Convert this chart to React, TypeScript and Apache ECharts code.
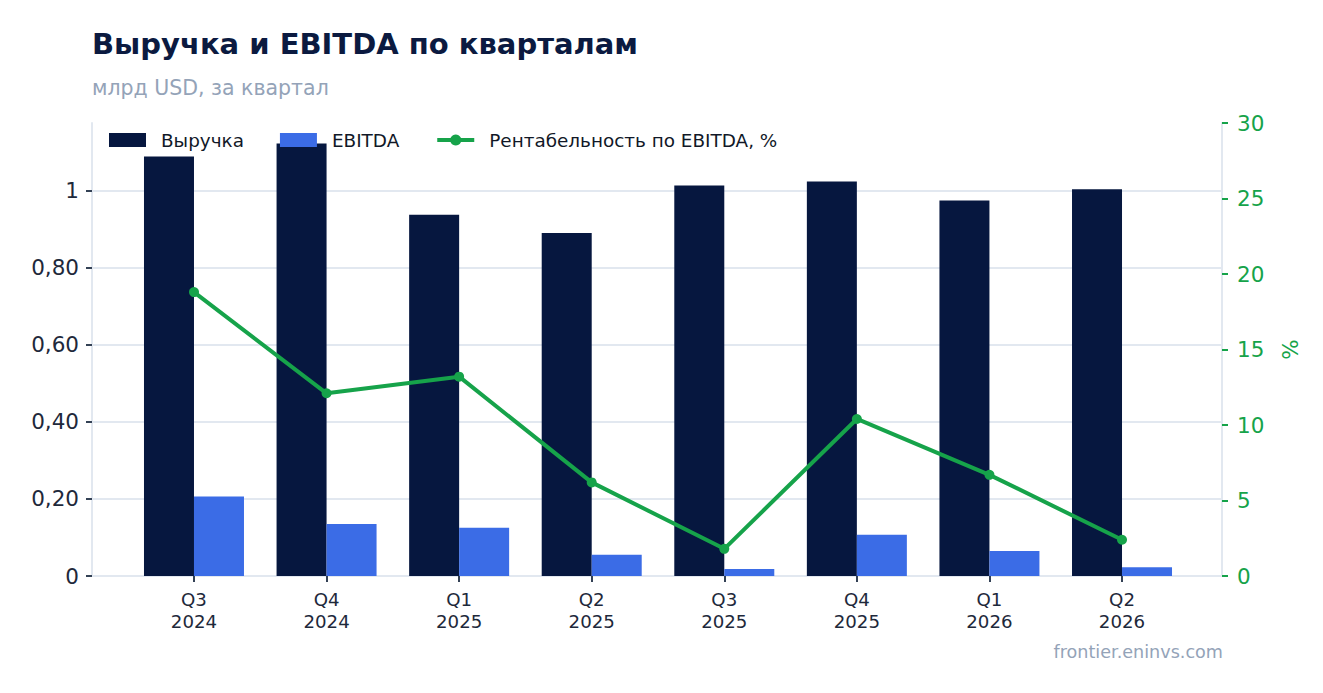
import * as echarts from 'echarts';
import { useEffect, useRef } from 'react';

const quarters = ['Q3\n2024', 'Q4\n2024', 'Q1\n2025', 'Q2\n2025', 'Q3\n2025', 'Q4\n2025', 'Q1\n2026', 'Q2\n2026'];
const revenue = [1.088, 1.122, 0.937, 0.89, 1.013, 1.023, 0.974, 1.003];
const ebitda = [0.206, 0.135, 0.125, 0.055, 0.018, 0.107, 0.065, 0.023];
const margin = [18.8, 12.1, 13.2, 6.2, 1.8, 10.4, 6.7, 2.4];

const NAVY = '#06173f';
const BLUE = '#3b6ce6';
const GREEN = '#16a34a';
const GRID_LINE = '#e2e8f0';
const MUTED = '#94a3b8';
const FONT = '"DejaVu Sans", sans-serif';

export default function App() {
  const chartRef = useRef<HTMLDivElement>(null);

  useEffect(() => {
    if (!chartRef.current) return;
    document.body.style.margin = '0';
    const chart = echarts.init(chartRef.current, undefined, { renderer: 'svg' });

    const leftFmt = (v: number) => {
      if (v === 0) return '0';
      if (Math.abs(v - 1) < 1e-9) return '1';
      return v.toFixed(2).replace('.', ',');
    };

    chart.setOption({
      animation: false,
      textStyle: { fontFamily: FONT },
      title: [
        {
          text: 'Выручка и EBITDA по кварталам',
          left: 92,
          top: 29,
          padding: 0,
          textStyle: { fontSize: 29, fontWeight: 'bold', color: '#0b1a40', fontFamily: FONT },
        },
        {
          text: 'млрд USD, за квартал',
          left: 92,
          top: 77,
          padding: 0,
          textStyle: { fontSize: 20.5, fontWeight: 'normal', color: MUTED, fontFamily: FONT },
        },
      ],
      legend: {
        left: 109,
        top: 131,
        padding: 0,
        itemWidth: 37,
        itemHeight: 14,
        itemGap: 36,
        selectedMode: false,
        textStyle: { fontSize: 18.4, color: '#111827', padding: [0, 0, 0, 10], fontFamily: FONT },
        data: [
          { name: 'Выручка', icon: 'rect' },
          { name: 'EBITDA', icon: 'rect' },
          { name: 'Рентабельность по EBITDA, %', lineStyle: { width: 4, color: GREEN } },
        ],
      },
      grid: [
        { left: 92, right: 101, top: 123, bottom: 117 },
        { left: 127.7, right: 134.7, top: 123, bottom: 117 },
      ],
      xAxis: [
        {
          type: 'category',
          gridIndex: 0,
          data: quarters,
          axisLine: { lineStyle: { color: GRID_LINE, width: 2 } },
          axisTick: { show: false },
          axisLabel: { show: false },
        },
        {
          type: 'category',
          gridIndex: 1,
          data: quarters,
          axisLine: { show: false },
          axisTick: { show: true, alignWithLabel: true, length: 6, lineStyle: { color: '#334155', width: 2 } },
          axisLabel: { fontSize: 18.2, color: '#1e293b', lineHeight: 22, margin: 12, fontFamily: FONT },
        },
      ],
      yAxis: [
        {
          type: 'value',
          gridIndex: 0,
          position: 'left',
          min: 0,
          max: 1.175,
          interval: 0.2,
          axisLine: { show: true, lineStyle: { color: GRID_LINE, width: 2 } },
          axisTick: { show: true, length: 6, lineStyle: { color: '#334155', width: 2 } },
          axisLabel: { fontSize: 21.5, color: '#1e293b', margin: 13, showMaxLabel: false, formatter: leftFmt, fontFamily: FONT },
          splitLine: { show: true, showMaxLine: false, lineStyle: { color: GRID_LINE, width: 2 } },
        },
        {
          type: 'value',
          gridIndex: 0,
          position: 'right',
          min: 0,
          max: 30,
          interval: 5,
          name: '%',
          nameLocation: 'middle',
          nameGap: 57,
          nameTextStyle: { fontSize: 21.5, color: GREEN, fontFamily: FONT },
          axisLine: { show: true, lineStyle: { color: GRID_LINE, width: 2 } },
          axisTick: { show: true, length: 6, lineStyle: { color: GREEN, width: 2 } },
          axisLabel: { fontSize: 21.5, color: GREEN, margin: 15, fontFamily: FONT },
          splitLine: { show: false },
        },
        { type: 'value', gridIndex: 1, min: 0, max: 1.175, show: false },
        { type: 'value', gridIndex: 1, min: 0, max: 30, show: false },
      ],
      series: [
        {
          name: 'Выручка',
          type: 'bar',
          xAxisIndex: 1,
          yAxisIndex: 2,
          data: revenue,
          barWidth: 50,
          barGap: '0%',
          itemStyle: { color: NAVY },
        },
        {
          name: 'EBITDA',
          type: 'bar',
          xAxisIndex: 1,
          yAxisIndex: 2,
          data: ebitda,
          barWidth: 50,
          barGap: '0%',
          itemStyle: { color: BLUE },
        },
        {
          name: 'Рентабельность по EBITDA, %',
          type: 'line',
          xAxisIndex: 1,
          yAxisIndex: 3,
          data: margin,
          symbol: 'circle',
          symbolSize: 10,
          z: 5,
          lineStyle: { color: GREEN, width: 4 },
          itemStyle: { color: GREEN },
        },
      ],
      graphic: [
        {
          type: 'text',
          right: 100,
          top: 643,
          style: { text: 'frontier.eninvs.com', fontSize: 17.6, fill: MUTED, fontFamily: FONT },
        },
      ],
    });

    return () => {
      chart.dispose();
    };
  }, []);

  return <div ref={chartRef} style={{ width: 1323, height: 693 }} />;
}
